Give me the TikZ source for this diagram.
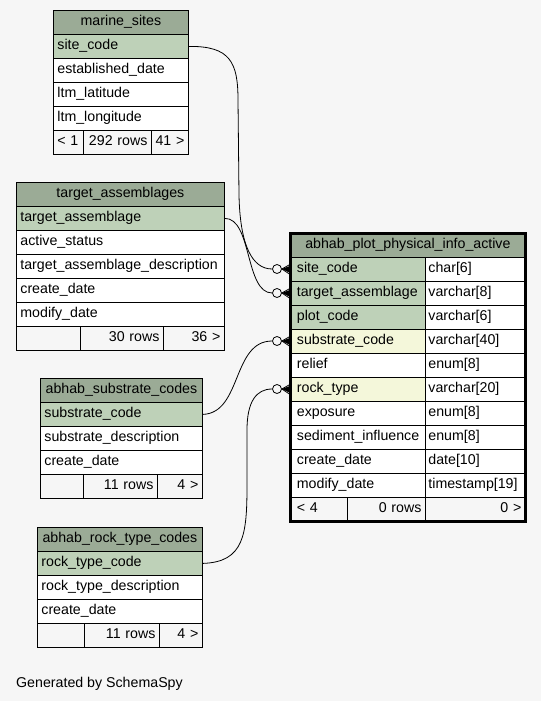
\documentclass[tikz,border=0pt]{standalone}
\usepackage{fontspec}
\newfontfamily\tblfont{Liberation Sans}
\usetikzlibrary{arrows}

\definecolor{bggray}{HTML}{F6F6F6}
\definecolor{headgreen}{HTML}{9BAB96}
\definecolor{keygreen}{HTML}{BED1B8}
\definecolor{fkyellow}{HTML}{F4F7DA}

\tikzset{
  tbl/.style={draw=black, line width=0.8pt, inner xsep=4pt, inner ysep=0pt,
    minimum height=24pt, text height=10.5pt, text depth=3.5pt,
    anchor=north west, align=left,
    font={\tblfont\fontsize{14.2}{17}\selectfont}},
  headcell/.style={tbl, fill=headgreen, align=center},
  keycell/.style={tbl, fill=keygreen},
  fkcell/.style={tbl, fill=fkyellow},
  plaincell/.style={tbl, fill=white},
  footcell/.style={tbl, fill=bggray, align=right},
  footleft/.style={tbl, fill=bggray, align=left},
  picol/.style={inner xsep=6.5pt, text width=122pt},
  ring/.style={circle, draw=black, fill=bggray, line width=0.8pt, inner sep=0pt, minimum size=9pt},
  link/.style={draw=black, line width=0.8pt},
}

\begin{document}
\begin{tikzpicture}[x=1pt,y=-1pt]
\useasboundingbox[fill=bggray] (0,0) rectangle (541,701);

% marine_sites
\node[headcell, text width=127pt] (ms-head) at (53,10) {marine\_sites};
\node[keycell, text width=127pt] (ms-site) at (53,34) {site\_code};
\foreach \t [count=\i] in {established\_date, ltm\_latitude, ltm\_longitude} {
  \node[plaincell, text width=127pt] (ms-row\i) at (53,34+24*\i) {\t};
}
\node[footleft, text width=22pt] (ms-foot1) at (53,130) {< 1};
\node[footcell, text width=60pt] (ms-foot2) at (83,130) {292 rows};
\node[footcell, text width=29pt] (ms-foot3) at (151,130) {41 >};

% target_assemblages
\node[headcell, text width=200pt] (ta-head) at (16,182) {target\_assemblages};
\node[keycell, text width=200pt] (ta-assem) at (16,206) {target\_assemblage};
\foreach \t [count=\i] in {active\_status, target\_assemblage\_description, create\_date, modify\_date} {
  \node[plaincell, text width=200pt] (ta-row\i) at (16,206+24*\i) {\t};
}
\node[footleft, text width=56pt] (ta-foot1) at (16,326) {};
\node[footcell, text width=75pt] (ta-foot2) at (80,326) {30 rows};
\node[footcell, text width=53pt] (ta-foot3) at (163,326) {36 >};

% abhab_substrate_codes
\node[headcell, text width=154pt] (sc-head) at (40,378) {abhab\_substrate\_codes};
\node[keycell, text width=154pt] (sc-subst) at (40,402) {substrate\_code};
\foreach \t [count=\i] in {substrate\_description, create\_date} {
  \node[plaincell, text width=154pt] (sc-row\i) at (40,402+24*\i) {\t};
}
\node[footleft, text width=35pt] (sc-foot1) at (40,474) {};
\node[footcell, text width=66pt] (sc-foot2) at (83,474) {11 rows};
\node[footcell, text width=37pt] (sc-foot3) at (157,474) {4 >};

% abhab_rock_type_codes
\node[headcell, text width=157pt] (rt-head) at (37,527) {abhab\_rock\_type\_codes};
\node[keycell, text width=157pt] (rt-rock) at (37,551) {rock\_type\_code};
\foreach \t [count=\i] in {rock\_type\_description, create\_date} {
  \node[plaincell, text width=157pt] (rt-row\i) at (37,551+24*\i) {\t};
}
\node[footleft, text width=39pt] (rt-foot1) at (37,623) {};
\node[footcell, text width=67pt] (rt-foot2) at (84,623) {11 rows};
\node[footcell, text width=35pt] (rt-foot3) at (159,623) {4 >};

% abhab_plot_physical_info_active
\node[headcell, text width=227pt] (pi-head) at (290,233) {abhab\_plot\_physical\_info\_active};
\node[keycell, picol] (pi-site) at (290,257) {site\_code};
\node[keycell, picol] (pi-assem) at (290,281) {target\_assemblage};
\node[keycell, picol] (pi-plot) at (290,305) {plot\_code};
\node[fkcell, picol] (pi-subst) at (290,329) {substrate\_code};
\node[plaincell, picol] (pi-relief) at (290,353) {relief};
\node[fkcell, picol] (pi-rock) at (290,377) {rock\_type};
\foreach \t [count=\i] in {exposure, sediment\_influence, create\_date, modify\_date} {
  \node[plaincell, picol] (pi-row\i) at (290,377+24*\i) {\t};
}
\foreach \t [count=\i from 0] in {char[6], varchar[8], varchar[6], varchar[40], enum[8], varchar[20], enum[8], enum[8], date[10], timestamp[19]} {
  \node[plaincell, inner xsep=3pt, text width=94pt] (pi-type\i) at (425,257+24*\i) {\t};
}
\node[footleft, inner xsep=6.5pt, text width=44pt] (pi-foot1) at (290,497) {< 4};
\node[footcell, text width=70pt] (pi-foot2) at (347,497) {0 rows};
\node[footcell, text width=92pt] (pi-foot3) at (425,497) {0 >};
\draw[line width=3pt] (pi-head.north west) rectangle (pi-foot3.south east);

% relationships
\node[ring] (ringsite) at (277,269) {};
\node[ring] (ringassem) at (277,293) {};
\node[ring] (ringsubst) at (277,341) {};
\node[ring] (ringrock) at (277,389) {};
\foreach \r/\c in {ringsite/pi-site, ringassem/pi-assem, ringsubst/pi-subst, ringrock/pi-rock} {
  \fill (\r.east) -- ([yshift=3.5pt]\c.west) -- ([yshift=-3.5pt]\c.west) -- cycle;
  \draw[line width=0.8pt] (\r.east) -- ([yshift=5pt]\c.west);
  \draw[line width=0.8pt] (\r.east) -- ([yshift=-5pt]\c.west);
}
\draw[link] (ms-site.east) .. controls (230,46) and (238,62) .. (238,100)
  -- (239,195) .. controls (240,245) and (252,269) .. (ringsite.west);
\draw[link] (ta-assem.east) .. controls (252,218) and (245,293) .. (ringassem.west);
\draw[link] (sc-subst.east) .. controls (242,413) and (232,341) .. (ringsubst.west);
\draw[link] (rt-rock.east) .. controls (244,562) and (247,535) .. (247,485)
  -- (247,430) .. controls (247,402) and (256,389) .. (ringrock.west);

\node[anchor=base west, inner sep=0pt, font={\tblfont\fontsize{14.2}{17}\selectfont}] (credit) at (16,687) {Generated by SchemaSpy};
\end{tikzpicture}
\end{document}
